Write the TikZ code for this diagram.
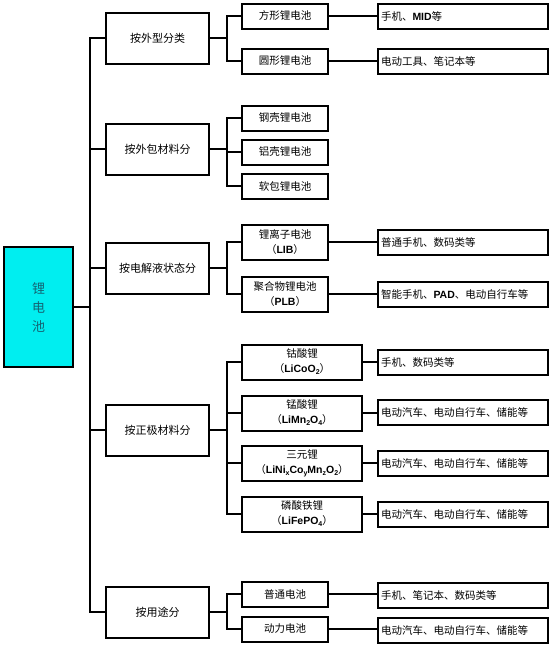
\documentclass[tikz,border=0pt]{standalone}
\usepackage{fontspec}
\setmainfont{Noto Sans CJK SC}
\newfontfamily\latin{Liberation Sans}
\usetikzlibrary{positioning}

\definecolor{rootcyan}{RGB}{0,238,240}
\definecolor{roottext}{RGB}{20,100,115}
\newcommand{\lt}[1]{{\latin\bfseries #1}}
\newcommand{\sbs}[1]{\raisebox{-0.35ex}{\scriptsize #1}}

\tikzset{
	rootbox/.style = {draw, line width=2pt, fill=rootcyan, text=roottext,
		minimum width=69, minimum height=120, font=\fontsize{13}{19}\selectfont, align=center},
	lvlone/.style = {draw, line width=2pt, minimum width=103, minimum height=51,
		font=\fontsize{11}{13}\selectfont},
	lvltwo/.style = {draw, line width=2pt, minimum width=86, minimum height=25,
		inner sep=1pt, font=\fontsize{10.5}{15}\selectfont, align=center},
	widetwo/.style = {lvltwo, minimum width=120, minimum height=35},
	lvlthree/.style = {draw, line width=2pt, minimum width=170, minimum height=25,
		text width=164, inner sep=3pt, font=\fontsize{10.5}{13}\selectfont, align=left},
	link/.style = {line width=2pt}
}

\begin{document}
\begin{tikzpicture}[x=1pt, y=-1pt]
	\useasboundingbox (0,0) rectangle (554,646);

	% root
	\node[rootbox] (root) at (38.5,307) {锂\\电\\池};

	% first level
	\node[lvlone] (shape) at (157.5,38) {按外型分类};
	\node[lvlone] (pack)  at (157.5,149) {按外包材料分};
	\node[lvlone] (elec)  at (157.5,268) {按电解液状态分};
	\node[lvlone] (cath)  at (157.5,430) {按正极材料分};
	\node[lvlone] (use)   at (157.5,612) {按用途分};

	% second level
	\node[lvltwo] (square) at (285,16)  {方形锂电池};
	\node[lvltwo] (round)  at (285,61)  {圆形锂电池};
	\node[lvltwo] (steel)  at (285,118) {钢壳锂电池};
	\node[lvltwo] (alu)    at (285,152) {铝壳锂电池};
	\node[lvltwo] (soft)   at (285,186) {软包锂电池};
	\node[lvltwo, minimum height=35] (lib) at (285,242) {锂离子电池\\（\lt{LIB}）};
	\node[lvltwo, minimum height=35] (plb) at (285,294) {聚合物锂电池\\（\lt{PLB}）};
	\node[widetwo] (lco) at (302,362) {钴酸锂\\（\lt{LiCoO\sbs{2}}）};
	\node[widetwo] (lmo) at (302,413) {锰酸锂\\（\lt{LiMn\sbs{2}O\sbs{4}}）};
	\node[widetwo] (ncm) at (302,463) {三元锂\\（\lt{LiNi\sbs{x}Co\sbs{y}Mn\sbs{z}O\sbs{2}}）};
	\node[widetwo] (lfp) at (302,514) {磷酸铁锂\\（\lt{LiFePO\sbs{4}}）};
	\node[lvltwo] (common) at (285,594) {普通电池};
	\node[lvltwo] (power)  at (285,629) {动力电池};

	% third level
	\node[lvlthree] (usesquare) at (463,16)  {手机、\lt{MID}等};
	\node[lvlthree] (useround)  at (463,61)  {电动工具、笔记本等};
	\node[lvlthree] (uselib)    at (463,242) {普通手机、数码类等};
	\node[lvlthree] (useplb)    at (463,294) {智能手机、\lt{PAD}、电动自行车等};
	\node[lvlthree] (uselco)    at (463,362) {手机、数码类等};
	\node[lvlthree] (uselmo)    at (463,412) {电动汽车、电动自行车、储能等};
	\node[lvlthree] (usencm)    at (463,463) {电动汽车、电动自行车、储能等};
	\node[lvlthree] (uselfp)    at (463,514) {电动汽车、电动自行车、储能等};
	\node[lvlthree] (usecommon) at (463,595) {手机、笔记本、数码类等};
	\node[lvlthree] (usepower)  at (463,630) {电动汽车、电动自行车、储能等};

	% trunk
	\foreach \n in {shape,pack,elec,cath,use}
		\draw[link] (root.east) -- ++(16,0) |- (\n.west);

	% forks
	\foreach \a/\b in {shape/square, shape/round, pack/steel, pack/alu, pack/soft,
		elec/lib, elec/plb, cath/lco, cath/lmo, cath/ncm, cath/lfp, use/common, use/power}
		\draw[link] (\a.east) -- ++(17,0) |- (\b.west);

	% uses
	\foreach \a/\b in {square/usesquare, round/useround, lib/uselib, plb/useplb,
		lco/uselco, lmo/uselmo, ncm/usencm, lfp/uselfp, common/usecommon, power/usepower}
		\draw[link] (\a.east) -- (\a.east -| \b.west);
\end{tikzpicture}
\end{document}
